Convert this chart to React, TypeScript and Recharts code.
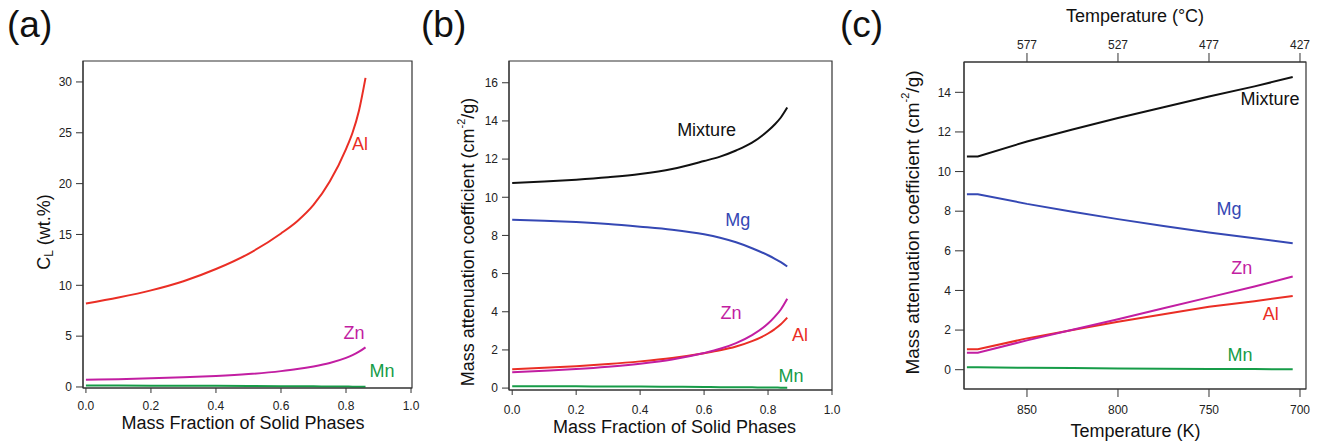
import React from 'react'
import { LineChart, Line, XAxis, YAxis, ReferenceArea, ReferenceDot } from 'recharts'

// mass fraction of solid phases, panels (a) and (b)
const fs = [0, 0.1, 0.2, 0.3, 0.4, 0.5, 0.6, 0.65, 0.7, 0.75, 0.8, 0.82, 0.84, 0.86]

// (a) liquid composition, wt.%
const aAl = [8.2, 8.8, 9.5, 10.4, 11.6, 13.1, 15.1, 16.3, 17.9, 20.2, 23.4, 25.0, 27.2, 30.4]
const aZn = [0.7, 0.77, 0.85, 0.95, 1.08, 1.27, 1.56, 1.76, 2.02, 2.36, 2.86, 3.13, 3.47, 3.9]
const aMn = [0.15, 0.14, 0.13, 0.12, 0.11, 0.1, 0.08, 0.07, 0.06, 0.05, 0.04, 0.03, 0.03, 0.02]

// (b) mass attenuation coefficient vs solid fraction
const bMix = [10.75, 10.82, 10.92, 11.05, 11.22, 11.48, 11.9, 12.13, 12.45, 12.86, 13.48, 13.8, 14.18, 14.7]
const bMg = [8.82, 8.77, 8.7, 8.6, 8.46, 8.3, 8.06, 7.88, 7.64, 7.33, 6.96, 6.79, 6.6, 6.37]
const bZn = [0.83, 0.91, 1.0, 1.12, 1.28, 1.5, 1.84, 2.06, 2.36, 2.78, 3.38, 3.72, 4.12, 4.68]
const bAl = [0.99, 1.06, 1.15, 1.26, 1.4, 1.58, 1.83, 1.98, 2.18, 2.46, 2.86, 3.08, 3.34, 3.69]
const bMn = [0.1, 0.09, 0.09, 0.08, 0.08, 0.07, 0.06, 0.05, 0.05, 0.04, 0.03, 0.03, 0.02, 0.02]

// (c) mass attenuation coefficient vs temperature (K)
const cT = [883, 877, 850, 825, 800, 775, 750, 725, 704]
const cMix = [10.76, 10.76, 11.52, 12.12, 12.7, 13.25, 13.79, 14.3, 14.77]
const cMg = [8.86, 8.86, 8.37, 7.97, 7.6, 7.25, 6.92, 6.63, 6.38]
const cZn = [0.86, 0.86, 1.48, 2.02, 2.55, 3.1, 3.65, 4.2, 4.7]
const cAl = [1.03, 1.03, 1.58, 2.0, 2.42, 2.8, 3.18, 3.46, 3.72]
const cMn = [0.12, 0.12, 0.1, 0.08, 0.06, 0.05, 0.04, 0.03, 0.02]

const fsTicks = [0, 0.2, 0.4, 0.6, 0.8, 1.0]
const aYTicks = [0, 5, 10, 15, 20, 25, 30]
const bYTicks = [0, 2, 4, 6, 8, 10, 12, 14, 16]
const cYTicks = [0, 2, 4, 6, 8, 10, 12, 14]
const kTicks = [850, 800, 750, 700]

const RED = '#ea2e25'
const MAGENTA = '#c21ea2'
const BLUE = '#3548b4'
const GREEN = '#169c48'
const BLACK = '#111'
const AXIS = '#333'

const dataA = fs.map((f, i) => ({ f, Al: aAl[i], Zn: aZn[i], Mn: aMn[i] }))
const dataB = fs.map((f, i) => ({ f, Mix: bMix[i], Mg: bMg[i], Zn: bZn[i], Al: bAl[i], Mn: bMn[i] }))
const dataC = cT.map((T, i) => ({ T, Mix: cMix[i], Mg: cMg[i], Zn: cZn[i], Al: cAl[i], Mn: cMn[i] }))

const tickStyle = { fill: '#222', fontSize: 12 }

function xTitle(text: React.ReactNode, cx: number, y: number) {
  return {
    content: () => (
      <text x={cx} y={y} textAnchor="middle" fontSize={18} fill={BLACK}>{text}</text>
    ),
  }
}

function yTitle(children: React.ReactNode, cx: number, cy: number, size = 18) {
  return {
    content: () => (
      <text
        x={cx}
        y={cy}
        textAnchor="middle"
        dominantBaseline="central"
        fontSize={size}
        fill={BLACK}
        transform={`rotate(-90, ${cx}, ${cy})`}
      >
        {children}
      </text>
    ),
  }
}

const attTitle = (
  <>
    Mass attenuation coefficient (cm
    <tspan dy={-7} fontSize={11}>-2</tspan>
    <tspan dy={7}>/g)</tspan>
  </>
)

function tag(text: string, color: string) {
  return { value: text, position: 'center' as const, fill: color, fontSize: 18 }
}

function line(key: string, color: string, curve: 'monotone' | 'linear', xId?: string) {
  return (
    <Line
      key={key}
      xAxisId={xId ?? 0}
      type={curve}
      dataKey={key}
      stroke={color}
      strokeWidth={2}
      dot={false}
      isAnimationActive={false}
    />
  )
}

function PanelA() {
  return (
    <LineChart width={440} height={446} data={dataA} margin={{ top: 61, right: 28, left: 23, bottom: 0 }}>
      <XAxis
        dataKey="f"
        type="number"
        domain={[-0.009, 1.003]}
        ticks={fsTicks}
        tickFormatter={(v: number) => v.toFixed(1)}
        height={58}
        tick={tickStyle}
        tickSize={5}
        tickMargin={8}
        stroke={AXIS}
        allowDataOverflow
        label={xTitle('Mass Fraction of Solid Phases', 243, 429)}
      />
      <YAxis
        type="number"
        domain={[-0.1, 32.06]}
        ticks={aYTicks}
        width={60}
        tick={tickStyle}
        tickSize={7}
        tickMargin={4}
        stroke={AXIS}
        allowDataOverflow
        label={yTitle(
          <>
            C<tspan dy={5} fontSize={12}>L</tspan>
            <tspan dy={-5}> (wt.%)</tspan>
          </>,
          44,
          232,
        )}
      />
      <ReferenceArea x1={-0.009} x2={1.003} y1={-0.1} y2={32.06} fill="none" stroke={AXIS} strokeWidth={1.2} ifOverflow="visible" />
      {line('Al', RED, 'monotone')}
      {line('Zn', MAGENTA, 'monotone')}
      {line('Mn', GREEN, 'monotone')}
      <ReferenceDot x={0.843} y={23.9} r={0} stroke="none" label={tag('Al', RED)} />
      <ReferenceDot x={0.825} y={5.3} r={0} stroke="none" label={tag('Zn', MAGENTA)} />
      <ReferenceDot x={0.911} y={1.57} r={0} stroke="none" label={tag('Mn', GREEN)} />
    </LineChart>
  )
}

function PanelB() {
  return (
    <LineChart width={440} height={446} data={dataB} margin={{ top: 61, right: 48, left: 9, bottom: 0 }}>
      <XAxis
        dataKey="f"
        type="number"
        domain={[-0.01, 1.0]}
        ticks={fsTicks}
        tickFormatter={(v: number) => v.toFixed(1)}
        height={56}
        tick={tickStyle}
        tickSize={5}
        tickMargin={10}
        stroke={AXIS}
        allowDataOverflow
        label={xTitle('Mass Fraction of Solid Phases', 234.5, 433)}
      />
      <YAxis
        type="number"
        domain={[-0.1, 17.14]}
        ticks={bYTicks}
        width={60}
        tick={tickStyle}
        tickSize={7}
        tickMargin={4}
        stroke={AXIS}
        allowDataOverflow
        label={yTitle(attTitle, 28, 242)}
      />
      <ReferenceArea x1={-0.01} x2={1.0} y1={-0.1} y2={17.14} fill="none" stroke={AXIS} strokeWidth={1.2} ifOverflow="visible" />
      {line('Mix', BLACK, 'monotone')}
      {line('Mg', BLUE, 'monotone')}
      {line('Al', RED, 'monotone')}
      {line('Zn', MAGENTA, 'monotone')}
      {line('Mn', GREEN, 'monotone')}
      <ReferenceDot x={0.608} y={13.56} r={0} stroke="none" label={tag('Mixture', BLACK)} />
      <ReferenceDot x={0.705} y={8.81} r={0} stroke="none" label={tag('Mg', BLUE)} />
      <ReferenceDot x={0.684} y={3.95} r={0} stroke="none" label={tag('Zn', MAGENTA)} />
      <ReferenceDot x={0.9} y={2.78} r={0} stroke="none" label={tag('Al', RED)} />
      <ReferenceDot x={0.872} y={0.63} r={0} stroke="none" label={tag('Mn', GREEN)} />
    </LineChart>
  )
}

function PanelC() {
  const kDomain: [number, number] = [696.7, 884.6]
  return (
    <LineChart width={440} height={446} data={dataC} margin={{ top: 0, right: 14, left: 24, bottom: 0 }}>
      <XAxis
        xAxisId="bottom"
        dataKey="T"
        type="number"
        domain={kDomain}
        reversed
        ticks={kTicks}
        height={57}
        tick={tickStyle}
        tickSize={8}
        tickMargin={8}
        stroke={AXIS}
        allowDataOverflow
        label={xTitle('Temperature (K)', 255.5, 437)}
      />
      <XAxis
        xAxisId="top"
        orientation="top"
        dataKey="T"
        type="number"
        domain={kDomain}
        reversed
        ticks={kTicks}
        tickFormatter={(v: number) => String(v - 273)}
        height={62}
        tick={tickStyle}
        tickSize={9}
        tickMargin={4}
        stroke={AXIS}
        allowDataOverflow
        label={xTitle('Temperature (°C)', 255, 22)}
      />
      <YAxis
        type="number"
        domain={[-0.974, 15.53]}
        ticks={cYTicks}
        width={60}
        tick={tickStyle}
        tickSize={9}
        tickMargin={4}
        stroke={AXIS}
        allowDataOverflow
        label={yTitle(attTitle, 32, 222.5, 19)}
      />
      <ReferenceArea xAxisId="bottom" x1={884.6} x2={696.7} y1={-0.974} y2={15.53} fill="none" stroke={AXIS} strokeWidth={1.2} ifOverflow="visible" />
      {line('Mix', BLACK, 'linear', 'bottom')}
      {line('Mg', BLUE, 'linear', 'bottom')}
      {line('Al', RED, 'linear', 'bottom')}
      {line('Zn', MAGENTA, 'linear', 'bottom')}
      {line('Mn', GREEN, 'linear', 'bottom')}
      <Line xAxisId="top" dataKey="Mn" stroke="none" dot={false} isAnimationActive={false} />
      <ReferenceDot xAxisId="bottom" x={716.5} y={13.66} r={0} stroke="none" label={tag('Mixture', BLACK)} />
      <ReferenceDot xAxisId="bottom" x={739} y={8.15} r={0} stroke="none" label={tag('Mg', BLUE)} />
      <ReferenceDot xAxisId="bottom" x={732} y={5.17} r={0} stroke="none" label={tag('Zn', MAGENTA)} />
      <ReferenceDot xAxisId="bottom" x={716} y={2.85} r={0} stroke="none" label={tag('Al', RED)} />
      <ReferenceDot xAxisId="bottom" x={733} y={0.78} r={0} stroke="none" label={tag('Mn', GREEN)} />
    </LineChart>
  )
}

const panelTag: React.CSSProperties = {
  position: 'absolute',
  top: 2,
  fontSize: 37,
  lineHeight: '46px',
  color: '#111',
}

export default function App() {
  return (
    <div
      style={{
        position: 'absolute',
        left: 0,
        top: 0,
        width: 1320,
        height: 446,
        background: '#fff',
        fontFamily: '"Liberation Sans", Arial, sans-serif',
        overflow: 'hidden',
      }}
    >
      <div style={{ position: 'absolute', left: 0, top: 0 }}><PanelA /></div>
      <div style={{ position: 'absolute', left: 440, top: 0 }}><PanelB /></div>
      <div style={{ position: 'absolute', left: 880, top: 0 }}><PanelC /></div>
      <div style={{ ...panelTag, left: 7 }}>(a)</div>
      <div style={{ ...panelTag, left: 421 }}>(b)</div>
      <div style={{ ...panelTag, left: 840 }}>(c)</div>
    </div>
  )
}
